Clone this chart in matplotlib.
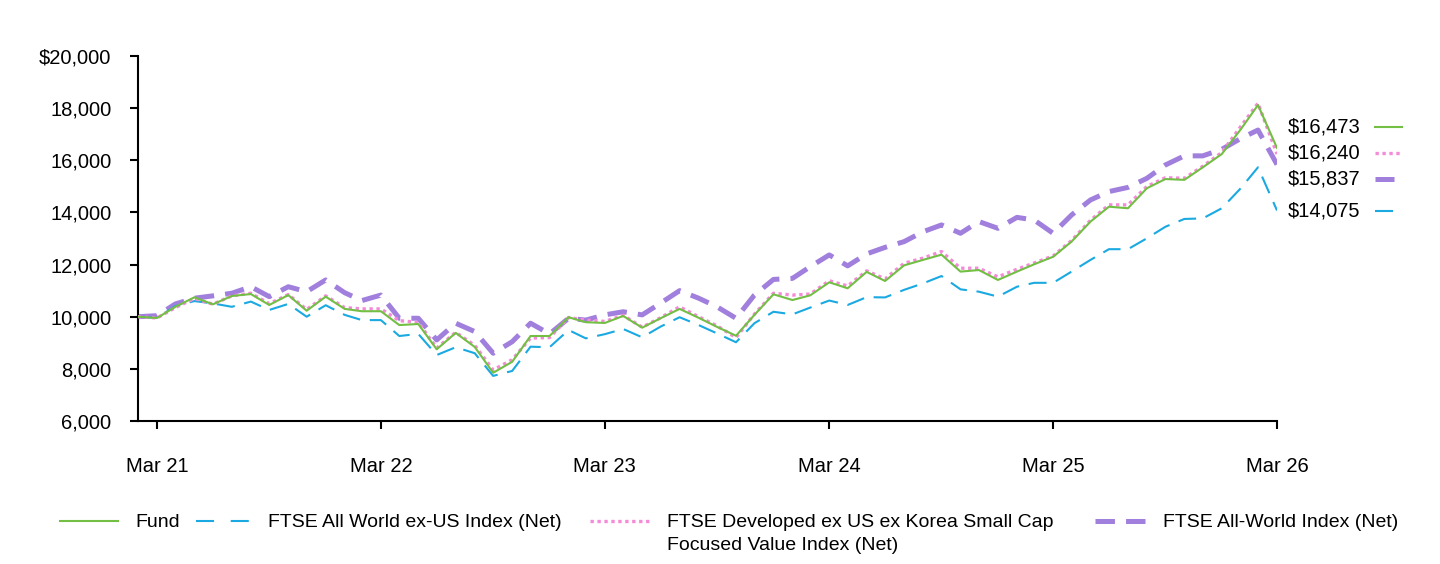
import matplotlib
matplotlib.use("Agg")
import matplotlib.pyplot as plt
from matplotlib.lines import Line2D
import pandas as pd

plt.rcParams['font.family'] = ['Liberation Sans', 'DejaVu Sans']
plt.rcParams['lines.scale_dashes'] = False

dates = pd.date_range("2021-02-28", "2026-03-31", freq="ME")
tick_dates = pd.to_datetime(["2021-03-31", "2022-03-31", "2023-03-31",
                             "2024-03-31", "2025-03-31", "2026-03-31"])
tick_labels = ["Mar 21", "Mar 22", "Mar 23", "Mar 24", "Mar 25", "Mar 26"]

fund = [10000, 9950, 10380, 10745, 10475, 10795, 10870, 10450, 10830, 10230, 10770,
        10300, 10210, 10210, 9680, 9720, 8750, 9380, 8840, 7850, 8270,
        9260, 9260, 9980, 9790, 9760, 10030, 9580, 9940, 10300, 9960,
        9610, 9270, 10070, 10860, 10640, 10820, 11320, 11090, 11720, 11370,
        11970, 12180, 12380, 11730, 11790, 11410, 11730, 12010, 12300, 12880,
        13650, 14220, 14160, 14930, 15280, 15250, 15730, 16240, 17190, 18120,
        16473]
allworld_exus = [10000, 9960, 10410, 10600, 10510, 10380, 10580, 10260, 10490, 10000, 10440,
                 10070, 9870, 9870, 9260, 9340, 8530, 8830, 8600, 7730, 7920,
                 8850, 8830, 9490, 9170, 9330, 9530, 9210, 9620, 9980, 9680,
                 9360, 9020, 9750, 10190, 10090, 10350, 10620, 10450, 10750, 10740,
                 11030, 11280, 11560, 11050, 10960, 10770, 11150, 11300, 11300, 11730,
                 12180, 12590, 12590, 13010, 13450, 13750, 13770, 14160, 14930, 15730,
                 14075]
smallcap_value = [10000, 9950, 10350, 10700, 10480, 10800, 10900, 10500, 10850, 10280, 10800,
                  10350, 10300, 10300, 9850, 9780, 8800, 9400, 8900, 7960, 8350,
                  9180, 9200, 9970, 9870, 9820, 10050, 9600, 9960, 10380, 10000,
                  9650, 9200, 10100, 10900, 10830, 10870, 11380, 11180, 11760, 11450,
                  12050, 12250, 12500, 11860, 11860, 11530, 11820, 12060, 12330, 12920,
                  13700, 14290, 14290, 15000, 15330, 15310, 15770, 16300, 17300, 18190,
                  16240]
allworld = [10000, 10040, 10490, 10710, 10800, 10900, 11150, 10770, 11150, 10960, 11410,
            10920, 10620, 10830, 9940, 9940, 9110, 9750, 9430, 8600, 9040,
            9750, 9340, 9940, 9870, 10070, 10190, 10070, 10520, 11000, 10710,
            10380, 9940, 10830, 11430, 11470, 11920, 12370, 11950, 12410, 12660,
            12880, 13260, 13520, 13200, 13650, 13390, 13810, 13710, 13200, 13900,
            14480, 14800, 14960, 15310, 15820, 16170, 16170, 16420, 16840, 17160,
            15837]

names = ["Fund", "FTSE All World ex-US Index (Net)",
         "FTSE Developed ex US ex Korea Small Cap\nFocused Value Index (Net)",
         "FTSE All-World Index (Net)"]

green = "#72BF44"
blue = "#1AA9E1"
pink = "#F58AD8"
purple = "#A07FDD"

st_fund = dict(color=green, lw=1.5)
st_exus = dict(color=blue, lw=1.5, dashes=(13, 7))
st_sc = dict(color=pink, lw=2.4, dashes=(2.4, 2.6))
st_aw = dict(color=purple, lw=3.6, dashes=(14, 8))

W, H = 1440, 564
fig = plt.figure(figsize=(W / 100, H / 100), dpi=100)
ax = fig.add_axes([138 / W, 1 - 421 / H, (1277 - 138) / W, (421 - 56) / H])

ax.plot(dates, allworld, zorder=2, **st_aw)
ax.plot(dates, allworld_exus, zorder=3, **st_exus)
ax.plot(dates, smallcap_value, zorder=4, **st_sc)
ax.plot(dates, fund, zorder=5, **st_fund)

ax.set_xlim(dates[0], dates[-1])
ax.set_ylim(6000, 20000)
yt = list(range(6000, 20001, 2000))
ax.set_yticks(yt)
ax.set_yticklabels([("$" if v == 20000 else "") + f"{v:,}" for v in yt])
ax.set_xticks(tick_dates)
ax.set_xticklabels(tick_labels)

for s in ["top", "right"]:
    ax.spines[s].set_visible(False)
for s in ["left", "bottom"]:
    ax.spines[s].set_linewidth(1.5)
ax.tick_params(axis="y", length=6, width=1.5, pad=13, labelsize=14.5)
ax.tick_params(axis="x", length=6, width=1.5, pad=20, labelsize=14.5)

# end-value labels at right
end_vals = [fund[-1], smallcap_value[-1], allworld[-1], allworld_exus[-1]]
end_styles = [st_fund, st_sc, st_aw, st_exus]
label_y = [127, 153, 179, 211]
end_handles = [(1375, 1402), (1375, 1400), (1375, 1394), (1375, 1393)]
for v, st, yp, (h0, h1) in zip(end_vals, end_styles, label_y, end_handles):
    yf = 1 - yp / H
    fig.text(1288 / W, yf, f"${v:,}", fontsize=14.5, va="center", ha="left")
    fig.add_artist(Line2D([h0 / W, h1 / W], [yf, yf], **st))

# legend row below the chart
leg_handles = [(60, 118), (196, 250), (590, 650), (1095, 1145)]
leg_text_x = [135, 268, 667, 1163]
leg_styles = [st_fund, dict(st_exus, dashes=(13, 12)), st_sc, st_aw]
row_y = 1 - 521 / H
for (h0, h1), tx, st, name in zip(leg_handles, leg_text_x, leg_styles, names):
    fig.add_artist(Line2D([h0 / W, h1 / W], [row_y, row_y], **st))
    fig.text(tx / W, 1 - 514 / H, name, fontsize=14, va="top", ha="left",
             linespacing=1.45)

fig.savefig("out.png", dpi=100)
